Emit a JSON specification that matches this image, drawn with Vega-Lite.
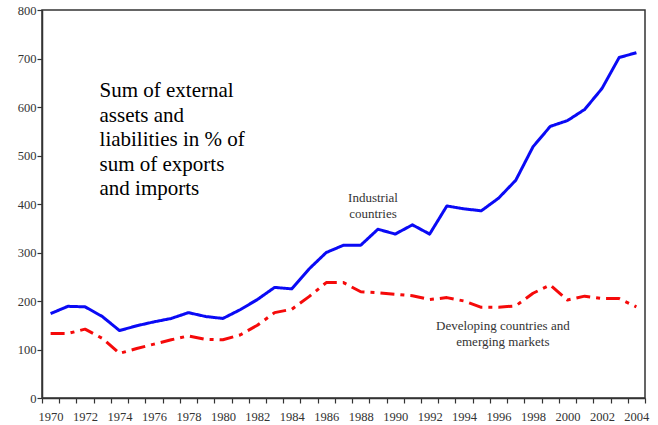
{
  "$schema": "https://vega.github.io/schema/vega-lite/v6.json",
  "autosize": {"type": "none"},
  "padding": {"left": 42, "top": 10, "right": 13, "bottom": 27},
  "width": 603,
  "height": 388,
  "background": "white",
  "config": {
    "view": {"stroke": "#333333", "strokeWidth": 1.5},
    "font": "Liberation Serif",
    "axis": {"labelFont": "Liberation Serif", "grid": false, "domainColor": "#333333", "domainWidth": 1.5, "tickColor": "#333333", "labelColor": "#333333", "title": null}
  },
  "encoding": {
    "x": {"field": "year", "type": "quantitative",
      "scale": {"domain": [1969.5, 2004.5], "nice": false, "zero": false},
      "axis": {
        "values": [1969.5,1970.5,1971.5,1972.5,1973.5,1974.5,1975.5,1976.5,1977.5,1978.5,1979.5,1980.5,1981.5,1982.5,1983.5,1984.5,1985.5,1986.5,1987.5,1988.5,1989.5,1990.5,1991.5,1992.5,1993.5,1994.5,1995.5,1996.5,1997.5,1998.5,1999.5,2000.5,2001.5,2002.5,2003.5,2004.5],
        "labelExpr": "(datum.value + 0.5) % 2 == 0 ? '' + (datum.value + 0.5) : ''",
        "labelOffset": 8.6,
        "tickSize": 5,
        "tickWidth": 1.2,
        "labelPadding": 7,
        "labelFontSize": 12.5,
        "labelOverlap": false,
        "labelBound": false,
        "labelFlush": false,
        "labelSeparation": 0,
        "encode": {"ticks": {"update": {"y2": {"value": -5}}}}
      }
    },
    "y": {"field": "value", "type": "quantitative",
      "scale": {"domain": [0, 800], "nice": false},
      "axis": {"values": [0,100,200,300,400,500,600,700,800], "tickSize": 5, "tickWidth": 1.2, "labelPadding": 1, "labelFontSize": 12.5, "labelFlush": false}
    }
  },
  "layer": [
    {
      "data": {"values": [
        {"year":1970,"series":"Industrial","value":174},
        {"year":1971,"series":"Industrial","value":189},
        {"year":1972,"series":"Industrial","value":188},
        {"year":1973,"series":"Industrial","value":168},
        {"year":1974,"series":"Industrial","value":139},
        {"year":1975,"series":"Industrial","value":149},
        {"year":1976,"series":"Industrial","value":157},
        {"year":1977,"series":"Industrial","value":164},
        {"year":1978,"series":"Industrial","value":176},
        {"year":1979,"series":"Industrial","value":168},
        {"year":1980,"series":"Industrial","value":164},
        {"year":1981,"series":"Industrial","value":182},
        {"year":1982,"series":"Industrial","value":203},
        {"year":1983,"series":"Industrial","value":228},
        {"year":1984,"series":"Industrial","value":225},
        {"year":1985,"series":"Industrial","value":266},
        {"year":1986,"series":"Industrial","value":300},
        {"year":1987,"series":"Industrial","value":315},
        {"year":1988,"series":"Industrial","value":315},
        {"year":1989,"series":"Industrial","value":348},
        {"year":1990,"series":"Industrial","value":338},
        {"year":1991,"series":"Industrial","value":357},
        {"year":1992,"series":"Industrial","value":338},
        {"year":1993,"series":"Industrial","value":396},
        {"year":1994,"series":"Industrial","value":390},
        {"year":1995,"series":"Industrial","value":386},
        {"year":1996,"series":"Industrial","value":412},
        {"year":1997,"series":"Industrial","value":449},
        {"year":1998,"series":"Industrial","value":518},
        {"year":1999,"series":"Industrial","value":560},
        {"year":2000,"series":"Industrial","value":572},
        {"year":2001,"series":"Industrial","value":595},
        {"year":2002,"series":"Industrial","value":638},
        {"year":2003,"series":"Industrial","value":702},
        {"year":2004,"series":"Industrial","value":712},
        {"year":1970,"series":"Developing","value":133},
        {"year":1971,"series":"Developing","value":133},
        {"year":1972,"series":"Developing","value":142},
        {"year":1973,"series":"Developing","value":123},
        {"year":1974,"series":"Developing","value":92},
        {"year":1975,"series":"Developing","value":102},
        {"year":1976,"series":"Developing","value":111},
        {"year":1977,"series":"Developing","value":120},
        {"year":1978,"series":"Developing","value":128},
        {"year":1979,"series":"Developing","value":121},
        {"year":1980,"series":"Developing","value":120},
        {"year":1981,"series":"Developing","value":130},
        {"year":1982,"series":"Developing","value":150},
        {"year":1983,"series":"Developing","value":176},
        {"year":1984,"series":"Developing","value":183},
        {"year":1985,"series":"Developing","value":209},
        {"year":1986,"series":"Developing","value":238},
        {"year":1987,"series":"Developing","value":238},
        {"year":1988,"series":"Developing","value":219},
        {"year":1989,"series":"Developing","value":217},
        {"year":1990,"series":"Developing","value":214},
        {"year":1991,"series":"Developing","value":211},
        {"year":1992,"series":"Developing","value":203},
        {"year":1993,"series":"Developing","value":207},
        {"year":1994,"series":"Developing","value":200},
        {"year":1995,"series":"Developing","value":187},
        {"year":1996,"series":"Developing","value":187},
        {"year":1997,"series":"Developing","value":190},
        {"year":1998,"series":"Developing","value":216},
        {"year":1999,"series":"Developing","value":233},
        {"year":2000,"series":"Developing","value":202},
        {"year":2001,"series":"Developing","value":210},
        {"year":2002,"series":"Developing","value":205},
        {"year":2003,"series":"Developing","value":205},
        {"year":2004,"series":"Developing","value":188}
      ]},
      "mark": {"type": "line", "strokeWidth": 3, "strokeJoin": "round"},
      "encoding": {
        "color": {"field": "series", "type": "nominal", "legend": null,
          "scale": {"domain": ["Industrial", "Developing"], "range": ["#0a0af5", "#f50a0a"]}},
        "strokeDash": {"field": "series", "type": "nominal", "legend": null,
          "scale": {"domain": ["Industrial", "Developing"], "range": [[1, 0], [14, 6, 4, 6]]}}
      }
    },
    {
      "data": {"values": [{"year": 1972.84, "value": 620, "label": "Sum of external\nassets and\nliabilities in % of\nsum of exports\nand imports"}]},
      "mark": {"type": "text", "align": "left", "baseline": "alphabetic", "fontSize": 21, "lineHeight": 24.5, "lineBreak": "\n", "color": "black", "font": "Liberation Serif"},
      "encoding": {"text": {"field": "label"}}
    },
    {
      "data": {"values": [{"year": 1988.71, "value": 404, "label": "Industrial\ncountries"}]},
      "mark": {"type": "text", "align": "center", "baseline": "alphabetic", "fontSize": 13, "lineHeight": 16, "lineBreak": "\n", "color": "#333333", "font": "Liberation Serif"},
      "encoding": {"text": {"field": "label"}}
    },
    {
      "data": {"values": [{"year": 1996.25, "value": 140, "label": "Developing countries and\nemerging markets"}]},
      "mark": {"type": "text", "align": "center", "baseline": "alphabetic", "fontSize": 13, "lineHeight": 16, "lineBreak": "\n", "color": "#333333", "font": "Liberation Serif"},
      "encoding": {"text": {"field": "label"}}
    }
  ]
}
